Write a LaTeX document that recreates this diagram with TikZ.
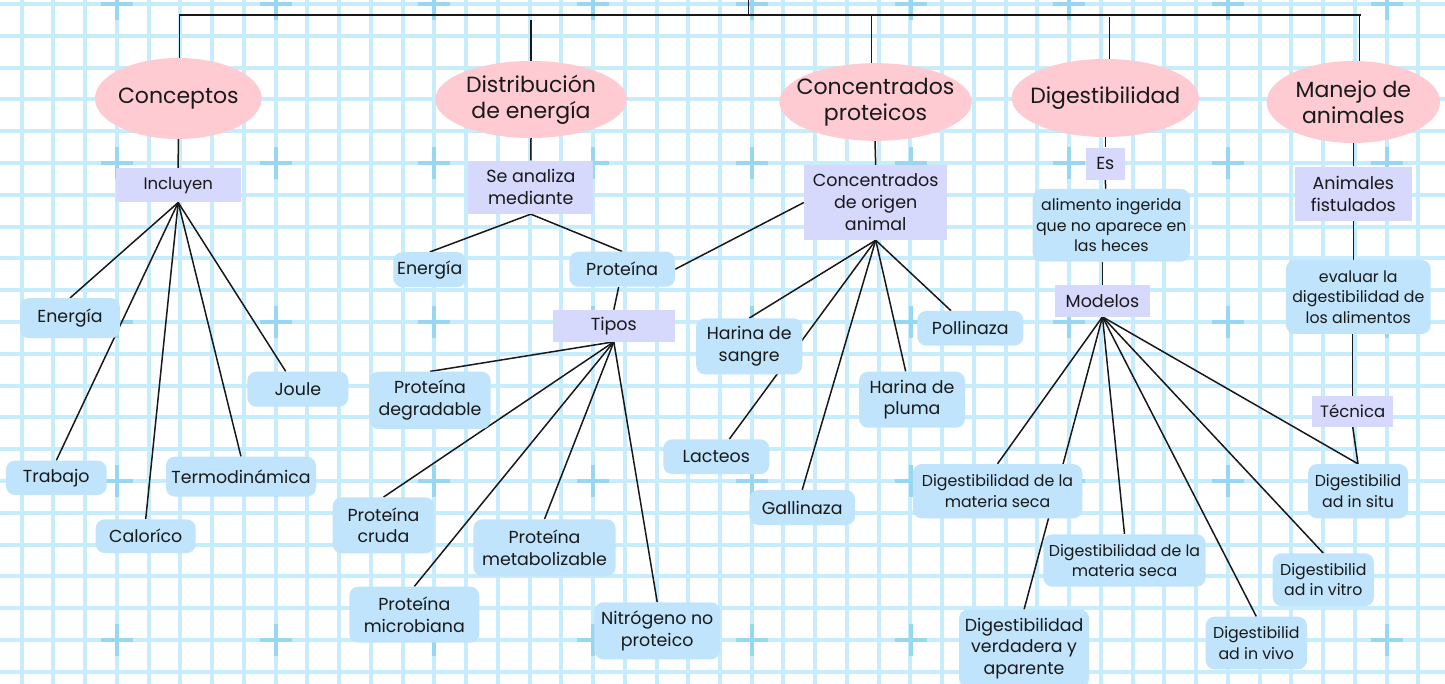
\documentclass[tikz,border=0pt]{standalone}
\usepackage{fontspec}
\setmainfont{Poppins}
\usetikzlibrary{shapes.geometric}
\pgfdeclarelayer{gridlayer}
\pgfdeclarelayer{linklayer}
\pgfsetlayers{gridlayer,linklayer,main}
\definecolor{pinkc}{RGB}{255,203,210}
\definecolor{purc}{RGB}{214,216,252}
\definecolor{bluc}{RGB}{192,228,252}
\definecolor{gridc}{RGB}{199,236,251}
\definecolor{crossc}{RGB}{152,215,242}
\definecolor{inkc}{RGB}{25,25,25}
\tikzset{
  ell/.style={ellipse, fill=pinkc, inner xsep=-45pt, inner ysep=-30pt, text=inkc, align=center, font=\fontsize{22}{25.7}\selectfont},
  pur/.style={rectangle, fill=purc, inner sep=0pt, text=inkc, align=center, font=\fontsize{17.5}{22}\selectfont},
  purs/.style={pur, font=\fontsize{16.5}{20}\selectfont},
  blu/.style={rectangle, rounded corners=9pt, fill=bluc, inner sep=0pt, text=inkc, align=center, font=\fontsize{17.4}{21.7}\selectfont},
  blus/.style={blu, font=\fontsize{15.8}{20.5}\selectfont},
  link/.style={draw=inkc, line width=1.5pt},
  gridline/.style={draw=gridc, line width=4pt},
  crossline/.style={draw=crossc, line width=4pt}
}
\begin{document}
\begin{tikzpicture}[x=1pt,y=-1pt]
\useasboundingbox (0,0) rectangle (1445,684);
\begin{pgfonlayer}{gridlayer}
\fill[white] (0,0) rectangle (1445,684);
\foreach \k in {0,...,44} \draw[gridline] ({21.7+31.74*\k},0) -- ({21.7+31.74*\k},684);
\foreach \k in {0,...,21} \draw[gridline] (0,{4+31.8*\k}) -- (1445,{4+31.8*\k});
\foreach \i in {0,...,4} \foreach \j in {0,...,8} {
  \draw[crossline] ({117+158.7*\j-16},{4+159*\i}) -- ++(32,0);
  \draw[crossline] ({117+158.7*\j},{4+159*\i-16}) -- ++(0,32);
}
\end{pgfonlayer}

% main ellipses
\node[ell, minimum width=166.7, minimum height=81] (con) at (178.3,98.5) {Conceptos};
\node[ell, minimum width=191.7, minimum height=77] (dis) at (531,99.5) {Distribución\\de energía};
\node[ell, minimum width=192.4, minimum height=77.7] (cpr) at (875.5,102) {Concentrados\\proteicos};
\node[ell, minimum width=187.3, minimum height=78] (dig) at (1105.3,98) {Digestibilidad};
\node[ell, minimum width=173.3, minimum height=82] (man) at (1353.3,102) {Manejo de\\animales};

% purple linking boxes
\node[purs, minimum width=125, minimum height=34] (incl) at (178.2,185.3) {Incluyen};
\node[pur, minimum width=125, minimum height=53.3] (sea) at (530.8,187.3) {Se analiza\\mediante};
\node[pur, minimum width=122.3, minimum height=31.7] (tip) at (613.8,325.8) {Tipos};
\node[pur, minimum width=143.3, minimum height=75] (coa) at (875.7,202.5) {Concentrados\\de origen\\animal};
\node[pur, minimum width=38.7, minimum height=32.3] (es) at (1105.3,163.8) {Es};
\node[pur, minimum width=95, minimum height=31.7] (mod) at (1102.5,300.8) {Modelos};
\node[pur, minimum width=116.7, minimum height=54] (af) at (1353.3,193.7) {Animales\\fistulados};
\node[purs, minimum width=80.5, minimum height=30.7] (tec) at (1352.7,411.3) {Técnica};

% blue concept boxes
\node[blu, minimum width=100, minimum height=40] (eone) at (70,318.2) {Energía};
\node[blu, minimum width=101, minimum height=35] (jou) at (297.8,389.2) {Joule};
\node[blu, minimum width=100.7, minimum height=34.3] (tra) at (56.3,477.8) {Trabajo};
\node[blu, minimum width=150, minimum height=40] (ter) at (241,476.7) {Termodinámica};
\node[blu, minimum width=100, minimum height=33.7] (cal) at (145.7,536.2) {Caloríco};
\node[blu, minimum width=72.7, minimum height=35] (etwo) at (429.7,269.7) {Energía};
\node[blu, minimum width=105.7, minimum height=35] (pro) at (622.2,269.2) {Proteína};
\node[blu, minimum width=121.3, minimum height=57.3] (pdg) at (430,400.3) {Proteína\\degradable};
\node[blu, minimum width=101.7, minimum height=56] (pcr) at (383.5,525.3) {Proteína\\cruda};
\node[blu, minimum width=142.3, minimum height=56.7] (pme) at (544.5,547.7) {Proteína\\metabolizable};
\node[blu, minimum width=130, minimum height=56] (pmi) at (414.3,614.7) {Proteína\\microbiana};
\node[blu, minimum width=125.7, minimum height=57] (nit) at (657.2,630.8) {Nitrógeno no\\proteico};
\node[blu, minimum width=106.3, minimum height=56] (hs) at (749.2,346.3) {Harina de\\sangre};
\node[blu, minimum width=106, minimum height=34.7] (pol) at (970.3,328.3) {Pollinaza};
\node[blu, minimum width=106, minimum height=56] (hp) at (912,399.7) {Harina de\\pluma};
\node[blu, minimum width=106, minimum height=34.7] (lac) at (716.3,456.7) {Lacteos};
\node[blu, minimum width=105.7, minimum height=35] (gal) at (802.2,507.5) {Gallinaza};
\node[blus, minimum width=157.3, minimum height=72.7] (ali) at (1111.3,225.3) {alimento ingerida\\que no aparece en\\las heces};
\node[blus, minimum width=144.7, minimum height=74] (eva) at (1358.3,297) {evaluar la\\digestibilidad de\\los alimentos};
\node[blus, minimum width=169.5, minimum height=54.3] (dmsa) at (997.5,491.2) {Digestibilidad de la\\materia seca};
\node[blus, minimum width=162.2, minimum height=52.4] (dmsb) at (1124.5,560.5) {Digestibilidad de la\\materia seca};
\node[blu, minimum width=130.2, minimum height=78] (dva) at (1024.1,648.5) {Digestibilidad\\verdadera y\\aparente};
\node[blus, minimum width=100, minimum height=54.3] (situ) at (1358,491.2) {Digestibilid\\ad in situ};
\node[blus, minimum width=101.4, minimum height=52.7] (vitro) at (1323.3,579.7) {Digestibilid\\ad in vitro};
\node[blus, minimum width=101.4, minimum height=52.6] (vivo) at (1256.3,643) {Digestibilid\\ad in vivo};

\coordinate (top) at (748.3,0);
\coordinate (bus) at (748.3,15);

\begin{pgfonlayer}{linklayer}
% top bus
\draw[link] (top) -- (bus);
\draw[link] ([xshift=1]con.north) -- ([xshift=1]con.north |- bus) -- ([xshift=8]man.north |- bus);
\draw[link] ([xshift=6]man.north |- bus) -- ([xshift=6]man.north);
\draw[link] ([yshift=-5]dis.north |- bus) -- (dis.north);
\draw[link] ([xshift=-4]cpr.north |- bus) -- ([xshift=-4]cpr.north);
\draw[link] ([xshift=4,yshift=-2]dig.north |- bus) -- ([xshift=4]dig.north);
% Conceptos
\draw[link] (con.south) -- (incl.north);
\foreach \t in {eone,tra,cal,ter} \draw[link] (incl.south) -- (\t.north);
\draw[link] (incl.south) -- ([xshift=-12]jou.north);
% Distribucion
\draw[link] (dis.south) -- (sea.north);
\draw[link] (sea.south) -- (etwo.north);
\draw[link] (sea.south) -- (pro.north);
\draw[link] ([xshift=-3.5]pro.south) -- (tip.north);
\draw[link] (pro.east) -- (coa.west);
\foreach \t in {pdg,pcr,pmi,pme,nit} \draw[link] (tip.south) -- (\t.north);
% Concentrados
\draw[link] ([xshift=-0.5]cpr.south) -- (coa.north);
\draw[link] (coa.south) -- (hs.north);
\draw[link] (coa.south) -- ([xshift=13]lac.north);
\draw[link] (coa.south) -- (gal.north);
\draw[link] (coa.south) -- ([xshift=-6.3]hp.north);
\draw[link] (coa.south) -- ([xshift=-19.3]pol.north);
% Digestibilidad
\draw[link] (dig.south) -- (es.north);
\draw[link] (es.south) -- ([xshift=-5.6]ali.north);
\draw[link] (mod.north |- ali.south) -- (mod.north);
\foreach \t in {dmsa,dva,dmsb,vivo,vitro,situ} \draw[link] (mod.south) -- (\t.north);
% Manejo
\draw[link] (man.south) -- (af.north);
\draw[link] (af.south) -- (af.south |- eva.north);
\draw[link] (eva.south -| tec.north) -- (tec.north);
\draw[link] (tec.south) -- (situ.north);
\end{pgfonlayer}
\end{tikzpicture}
\end{document}
